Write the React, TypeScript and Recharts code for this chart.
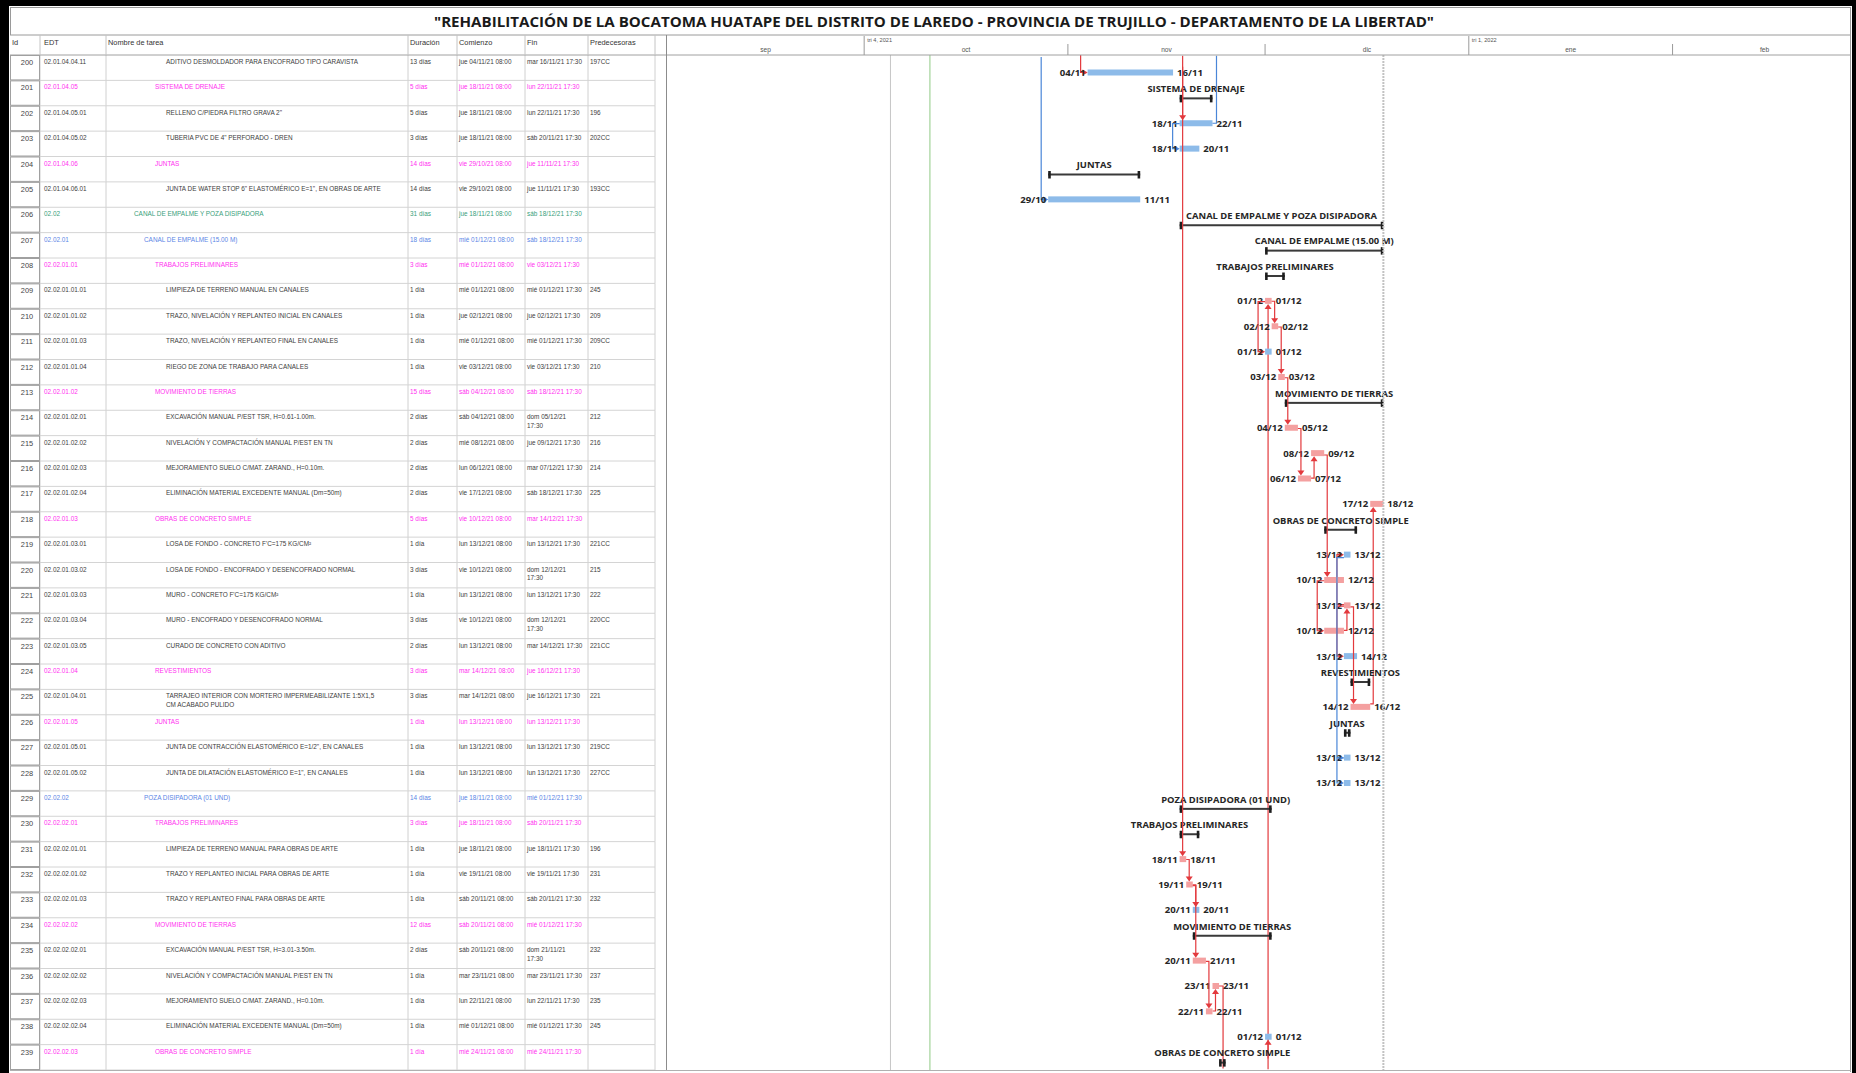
import React from "react";
import { ComposedChart, Bar, XAxis, YAxis, ReferenceLine } from "recharts";

const ids = [
  200, 201, 202, 203, 204, 205, 206, 207, 208, 209, 210, 211, 212, 213, 214, 215, 216, 217, 218, 219,
  220, 221, 222, 223, 224, 225, 226, 227, 228, 229, 230, 231, 232, 233, 234, 235, 236, 237, 238, 239,
];

const edtCodes = [
  "02.01.04.04.11", "02.01.04.05", "02.01.04.05.01", "02.01.04.05.02", "02.01.04.06", "02.01.04.06.01",
  "02.02", "02.02.01", "02.02.01.01", "02.02.01.01.01", "02.02.01.01.02", "02.02.01.01.03", "02.02.01.01.04",
  "02.02.01.02", "02.02.01.02.01", "02.02.01.02.02", "02.02.01.02.03", "02.02.01.02.04", "02.02.01.03",
  "02.02.01.03.01", "02.02.01.03.02", "02.02.01.03.03", "02.02.01.03.04", "02.02.01.03.05", "02.02.01.04",
  "02.02.01.04.01", "02.02.01.05", "02.02.01.05.01", "02.02.01.05.02", "02.02.02", "02.02.02.01",
  "02.02.02.01.01", "02.02.02.01.02", "02.02.02.01.03", "02.02.02.02", "02.02.02.02.01", "02.02.02.02.02",
  "02.02.02.02.03", "02.02.02.02.04", "02.02.02.03",
];

const taskNames = [
  "ADITIVO DESMOLDADOR PARA ENCOFRADO TIPO CARAVISTA",
  "SISTEMA DE DRENAJE",
  "RELLENO C/PIEDRA FILTRO GRAVA 2\"",
  "TUBERIA PVC DE 4\" PERFORADO - DREN",
  "JUNTAS",
  "JUNTA DE WATER STOP 6\" ELASTOMÉRICO E=1\", EN OBRAS DE ARTE",
  "CANAL DE EMPALME Y POZA DISIPADORA",
  "CANAL DE EMPALME (15.00 M)",
  "TRABAJOS PRELIMINARES",
  "LIMPIEZA DE TERRENO MANUAL EN CANALES",
  "TRAZO, NIVELACIÓN Y REPLANTEO INICIAL EN CANALES",
  "TRAZO, NIVELACIÓN Y REPLANTEO FINAL EN CANALES",
  "RIEGO DE ZONA DE TRABAJO PARA CANALES",
  "MOVIMIENTO DE TIERRAS",
  "EXCAVACIÓN MANUAL P/EST TSR, H=0.61-1.00m.",
  "NIVELACIÓN Y COMPACTACIÓN MANUAL P/EST EN TN",
  "MEJORAMIENTO SUELO C/MAT. ZARAND., H=0.10m.",
  "ELIMINACIÓN MATERIAL EXCEDENTE MANUAL (Dm=50m)",
  "OBRAS DE CONCRETO SIMPLE",
  "LOSA DE FONDO - CONCRETO F'C=175 KG/CM²",
  "LOSA DE FONDO - ENCOFRADO Y DESENCOFRADO NORMAL",
  "MURO - CONCRETO F'C=175 KG/CM²",
  "MURO - ENCOFRADO Y DESENCOFRADO NORMAL",
  "CURADO DE CONCRETO CON ADITIVO",
  "REVESTIMIENTOS",
  "TARRAJEO INTERIOR CON MORTERO IMPERMEABILIZANTE 1:5X1,5\nCM ACABADO PULIDO",
  "JUNTAS",
  "JUNTA DE CONTRACCIÓN ELASTOMÉRICO E=1/2\", EN CANALES",
  "JUNTA DE DILATACIÓN ELASTOMÉRICO E=1\", EN CANALES",
  "POZA DISIPADORA (01 UND)",
  "TRABAJOS PRELIMINARES",
  "LIMPIEZA DE TERRENO MANUAL PARA OBRAS DE ARTE",
  "TRAZO Y REPLANTEO INICIAL PARA OBRAS DE ARTE",
  "TRAZO Y REPLANTEO FINAL PARA OBRAS DE ARTE",
  "MOVIMIENTO DE TIERRAS",
  "EXCAVACIÓN MANUAL P/EST TSR, H=3.01-3.50m.",
  "NIVELACIÓN Y COMPACTACIÓN MANUAL P/EST EN TN",
  "MEJORAMIENTO SUELO C/MAT. ZARAND., H=0.10m.",
  "ELIMINACIÓN MATERIAL EXCEDENTE MANUAL (Dm=50m)",
  "OBRAS DE CONCRETO SIMPLE",
];

const durations = [
  "13 días", "5 días", "5 días", "3 días", "14 días", "14 días", "31 días", "18 días", "3 días", "1 día",
  "1 día", "1 día", "1 día", "15 días", "2 días", "2 días", "2 días", "2 días", "5 días", "1 día",
  "3 días", "1 día", "3 días", "2 días", "3 días", "3 días", "1 día", "1 día", "1 día", "14 días",
  "3 días", "1 día", "1 día", "1 día", "12 días", "2 días", "1 día", "1 día", "1 día", "1 día",
];

const startTexts = [
  "jue 04/11/21 08:00", "jue 18/11/21 08:00", "jue 18/11/21 08:00", "jue 18/11/21 08:00", "vie 29/10/21 08:00",
  "vie 29/10/21 08:00", "jue 18/11/21 08:00", "mié 01/12/21 08:00", "mié 01/12/21 08:00", "mié 01/12/21 08:00",
  "jue 02/12/21 08:00", "mié 01/12/21 08:00", "vie 03/12/21 08:00", "sáb 04/12/21 08:00", "sáb 04/12/21 08:00",
  "mié 08/12/21 08:00", "lun 06/12/21 08:00", "vie 17/12/21 08:00", "vie 10/12/21 08:00", "lun 13/12/21 08:00",
  "vie 10/12/21 08:00", "lun 13/12/21 08:00", "vie 10/12/21 08:00", "lun 13/12/21 08:00", "mar 14/12/21 08:00",
  "mar 14/12/21 08:00", "lun 13/12/21 08:00", "lun 13/12/21 08:00", "lun 13/12/21 08:00", "jue 18/11/21 08:00",
  "jue 18/11/21 08:00", "jue 18/11/21 08:00", "vie 19/11/21 08:00", "sáb 20/11/21 08:00", "sáb 20/11/21 08:00",
  "sáb 20/11/21 08:00", "mar 23/11/21 08:00", "lun 22/11/21 08:00", "mié 01/12/21 08:00", "mié 24/11/21 08:00",
];

const endTexts = [
  "mar 16/11/21 17:30", "lun 22/11/21 17:30", "lun 22/11/21 17:30", "sáb 20/11/21 17:30", "jue 11/11/21 17:30",
  "jue 11/11/21 17:30", "sáb 18/12/21 17:30", "sáb 18/12/21 17:30", "vie 03/12/21 17:30", "mié 01/12/21 17:30",
  "jue 02/12/21 17:30", "mié 01/12/21 17:30", "vie 03/12/21 17:30", "sáb 18/12/21 17:30", "dom 05/12/21\n17:30",
  "jue 09/12/21 17:30", "mar 07/12/21 17:30", "sáb 18/12/21 17:30", "mar 14/12/21 17:30", "lun 13/12/21 17:30",
  "dom 12/12/21\n17:30", "lun 13/12/21 17:30", "dom 12/12/21\n17:30", "mar 14/12/21 17:30", "jue 16/12/21 17:30",
  "jue 16/12/21 17:30", "lun 13/12/21 17:30", "lun 13/12/21 17:30", "lun 13/12/21 17:30", "mié 01/12/21 17:30",
  "sáb 20/11/21 17:30", "jue 18/11/21 17:30", "vie 19/11/21 17:30", "sáb 20/11/21 17:30", "mié 01/12/21 17:30",
  "dom 21/11/21\n17:30", "mar 23/11/21 17:30", "lun 22/11/21 17:30", "mié 01/12/21 17:30", "mié 24/11/21 17:30",
];

const predecessors = [
  "197CC", "", "196", "202CC", "", "193CC", "", "", "", "245",
  "209", "209CC", "210", "", "212", "216", "214", "225", "", "221CC",
  "215", "222", "220CC", "221CC", "", "221", "", "219CC", "227CC", "",
  "", "196", "231", "232", "", "232", "237", "235", "245", "",
];

// t = tarea, c = tarea crítica, r1 / r2 / r3 = resumen (verde / azul / magenta)
const kinds = [
  "t", "r3", "t", "t", "r3", "t", "r1", "r2", "r3", "c",
  "c", "t", "c", "r3", "c", "c", "c", "c", "r3", "t",
  "c", "c", "c", "t", "r3", "c", "r3", "t", "t", "r2",
  "r3", "c", "c", "t", "r3", "c", "c", "c", "t", "r3",
];

// tareas fuera de la vista
const criticalOutside = [196, 197, 245];
const succAbove = [202];
const succBelow = [236];

const months = ["sep", "oct", "nov", "dic", "ene", "feb"];
const monthBounds = ["01/09/21", "01/10/21", "01/11/21", "01/12/21", "01/01/22", "01/02/22", "01/03/22"];
const quarterLabels = ["tri 4, 2021", "tri 1, 2022"];
const quarterStarts = ["01/10/21", "01/01/22"];
const timelineEnd = "28/02/22";
const markerDates = ["05/10/21", "11/10/21", "19/12/21"];

const T0 = Date.UTC(2021, 8, 1);
const dayOf = (s: string) => {
  const m = s.match(/(\d{2})\/(\d{2})\/(\d{2})/)!;
  return (Date.UTC(2000 + Number(m[3]), Number(m[2]) - 1, Number(m[1])) - T0) / 86400000;
};
const shortDate = (s: string) => {
  const m = s.match(/(\d{2})\/(\d{2})\/(\d{2})/)!;
  return `${m[1]}/${m[2]}`;
};

const rows = ids.map((id, i) => {
  const start = dayOf(startTexts[i]);
  const end = dayOf(endTexts[i]) + 1;
  return { id: String(id), idx: i, start, end, range: [start, end] };
});

const monthDays = monthBounds.map(dayOf);
const monthMids = months.map((_, i) => (monthDays[i] + monthDays[i + 1]) / 2);
const quarterDays = quarterStarts.map(dayOf);
const headerTicks = [...monthDays.slice(0, 6), ...monthMids].sort((a, b) => a - b);

const CHART_TOP = 35;
const HEADER_H = 20;
const ROWS_H = 1015;
const ROW_H = ROWS_H / ids.length;
const BAR_Y = 17.5;

const RED_BAR = "#f4a0a0";
const BLUE_BAR = "#8dbbe9";
const RED_LINK = "#e3393d";
const BLUE_LINK = "#4a86d8";
const LABEL = "#262626";

const textColor: Record<string, string> = {
  t: "#3c3c3c",
  c: "#3c3c3c",
  r1: "#38a07a",
  r2: "#5b86e6",
  r3: "#ff2ff0",
};
const nameIndent: Record<string, number> = { t: 166, c: 166, r3: 155, r2: 144, r1: 134 };
const colLines = [40, 106, 408, 457, 525, 588, 655];

const TableRow = (props: any) => {
  const { y, payload } = props;
  const i = ids.indexOf(Number(payload.value));
  if (i < 0) return null;
  const top = y - ROW_H / 2;
  const fill = textColor[kinds[i]];
  const base = top + 9;
  const cell = (s: string, x: number, c: string) =>
    s.split("\n").map((ln, j) => (
      <text key={j} x={x} y={base + j * 8.6} fontSize={6.4} fill={c}>
        {ln}
      </text>
    ));
  return (
    <g fontFamily="'Liberation Sans', Arial, sans-serif">
      {colLines.map((cx) => (
        <line key={cx} x1={cx} x2={cx} y1={top} y2={top + ROW_H} stroke="#d0d0d0" />
      ))}
      <line x1={10} x2={655} y1={top + ROW_H} y2={top + ROW_H} stroke="#d4d4d4" />
      <rect x={10.5} y={top + 0.5} width={29} height={ROW_H - 1} fill="#fff" stroke="#a0a0a0" />
      <text x={27} y={top + 10} textAnchor="middle" fontSize={7.4} fill="#444">
        {ids[i]}
      </text>
      {cell(edtCodes[i], 44, fill)}
      {cell(taskNames[i], nameIndent[kinds[i]], fill)}
      {cell(durations[i], 410, fill)}
      {cell(startTexts[i], 459, fill)}
      {cell(endTexts[i], 527, fill)}
      {cell(predecessors[i], 590, "#3c3c3c")}
    </g>
  );
};

const HeaderTick = (props: any) => {
  const { x, payload } = props;
  const v = payload.value;
  const mid = monthMids.indexOf(v);
  if (mid >= 0) {
    return (
      <text x={x} y={17} textAnchor="middle" fontSize={6.6} fill="#555" fontFamily="'Liberation Sans', Arial">
        {months[mid]}
      </text>
    );
  }
  const q = quarterDays.indexOf(v);
  if (v <= 0) return null;
  return (
    <g>
      <line x1={x} x2={x} y1={q >= 0 ? 1 : 9} y2={HEADER_H} stroke="#9a9a9a" />
      {q >= 0 && (
        <text x={x + 3} y={7} fontSize={5.6} fill="#555" fontFamily="'Liberation Sans', Arial">
          {quarterLabels[q]}
        </text>
      )}
    </g>
  );
};

const arrowRight = (x: number, y: number, c: string) => (
  <polygon points={`${x},${y} ${x - 5},${y - 3} ${x - 5},${y + 3}`} fill={c} />
);
const arrowDown = (x: number, y: number, c: string) => (
  <polygon points={`${x},${y} ${x - 3.5},${y - 5} ${x + 3.5},${y - 5}`} fill={c} />
);
const arrowUp = (x: number, y: number, c: string) => (
  <polygon points={`${x},${y} ${x - 3.5},${y + 5} ${x + 3.5},${y + 5}`} fill={c} />
);

const GanttShape = (props: any) => {
  const { x, y, width, height, payload } = props;
  const i = payload.idx;
  const kind = kinds[i];
  const top = y;
  const band = height;
  const cy = top + BAR_Y;
  const pxDay = width / (payload.end - payload.start);
  const xAt = (d: number) => x + (d - payload.start) * pxDay;
  const plotTop = top - i * band;
  const plotBottom = top + (ids.length - i) * band;
  const font = { fontFamily: "'Open Sans', 'Noto Sans', sans-serif", fontWeight: 700 };

  if (kind.startsWith("r")) {
    return (
      <g>
        <text x={x + width / 2} y={top + 11.8} textAnchor="middle" fontSize={9.4} fill={LABEL} {...font}>
          {taskNames[i]}
        </text>
        <rect x={x} y={top + 17} width={width} height={2} fill="#3a3a3a" />
        <rect x={x} y={top + 14.5} width={2.6} height={7.5} fill="#1e1e1e" />
        <rect x={x + width - 2.6} y={top + 14.5} width={2.6} height={7.5} fill="#1e1e1e" />
      </g>
    );
  }

  const links: React.ReactNode[] = [];
  const pred = predecessors[i];
  if (pred) {
    const cc = pred.endsWith("CC");
    const pid = parseInt(pred, 10);
    const pi = ids.indexOf(pid);
    const crit = pi >= 0 ? kinds[pi] === "c" : criticalOutside.includes(pid);
    const col = crit ? RED_LINK : BLUE_LINK;
    if (cc) {
      let d: string;
      if (pi >= 0) {
        const pcy = top + (pi - i) * band + BAR_Y;
        const psx = xAt(rows[pi].start);
        const lx = Math.min(psx, x) - 7;
        d = `M${psx},${pcy}H${lx}V${cy}H${x - 4}`;
      } else {
        const from = pid < ids[0] ? plotTop : plotBottom;
        d = `M${x - 7},${from}V${cy}H${x - 4}`;
      }
      links.push(
        <g key="in">
          <path d={d} fill="none" stroke={col} strokeWidth={1.2} />
          {arrowRight(x, cy, col)}
        </g>
      );
    } else {
      const vx = x + 3;
      let down: boolean;
      let d: string;
      if (pi >= 0) {
        const pcy = top + (pi - i) * band + BAR_Y;
        const pex = xAt(rows[pi].end);
        down = pi < i;
        d = `M${pex},${pcy}H${vx}V${down ? cy - 7 : cy + 7}`;
      } else {
        down = pid < ids[0];
        d = `M${vx},${down ? plotTop : plotBottom}V${down ? cy - 7 : cy + 7}`;
      }
      links.push(
        <g key="in">
          <path d={d} fill="none" stroke={col} strokeWidth={1.2} />
          {down ? arrowDown(vx, cy - 3, col) : arrowUp(vx, cy + 3, col)}
        </g>
      );
    }
  }
  const ownCol = kind === "c" ? RED_LINK : BLUE_LINK;
  if (succAbove.includes(ids[i])) {
    links.push(
      <path key="up" d={`M${x + width},${cy}H${x + width + 4}V${plotTop}`} fill="none" stroke={ownCol} strokeWidth={1.2} />
    );
  }
  if (succBelow.includes(ids[i])) {
    links.push(
      <path key="dn" d={`M${x + width},${cy}H${x + width + 4}V${plotBottom}`} fill="none" stroke={ownCol} strokeWidth={1.2} />
    );
  }

  return (
    <g>
      <rect x={x} y={cy - 3} width={width} height={6} fill={kind === "c" ? RED_BAR : BLUE_BAR} />
      {links}
      <text x={x - 2} y={cy + 3.4} textAnchor="end" fontSize={9.6} fill={LABEL} {...font}>
        {shortDate(startTexts[i])}
      </text>
      <text x={x + width + 4} y={cy + 3.4} fontSize={9.6} fill={LABEL} {...font}>
        {shortDate(endTexts[i])}
      </text>
    </g>
  );
};

const headerCols = [
  { label: "Id", x: 12 },
  { label: "EDT", x: 44 },
  { label: "Nombre de tarea", x: 108 },
  { label: "Duración", x: 410 },
  { label: "Comienzo", x: 459 },
  { label: "Fin", x: 527 },
  { label: "Predecesoras", x: 590 },
];

const App = () => {
  return (
    <div
      style={{
        position: "absolute",
        left: 0,
        top: 0,
        width: 1856,
        height: 1073,
        background: "#fff",
        overflow: "hidden",
      }}
    >
      <div style={{ position: "absolute", left: 0, top: CHART_TOP }}>
        <ComposedChart
          width={1850}
          height={HEADER_H + ROWS_H}
          data={rows}
          layout="vertical"
          margin={{ top: 0, right: 0, bottom: 0, left: 8 }}
          barCategoryGap={0}
          barGap={0}
        >
          <XAxis
            type="number"
            orientation="top"
            domain={[0, dayOf(timelineEnd)]}
            ticks={headerTicks}
            interval={0}
            height={HEADER_H}
            tick={(p: any) => <HeaderTick {...p} />}
            tickLine={false}
            axisLine={{ stroke: "#a0a0a0" }}
            allowDataOverflow
          />
          <YAxis
            type="category"
            dataKey="id"
            width={659}
            interval={0}
            tick={(p: any) => <TableRow {...p} />}
            tickLine={false}
            axisLine={false}
          />
          <ReferenceLine x={dayOf(markerDates[0])} stroke="#c6c6c6" />
          <ReferenceLine x={dayOf(markerDates[1])} stroke="#b5dcae" strokeWidth={1.5} />
          <ReferenceLine x={dayOf(markerDates[2])} stroke="#c2c2c2" strokeWidth={2} strokeDasharray="2 1" />
          <Bar dataKey="range" isAnimationActive={false} shape={(p: any) => <GanttShape {...p} />} />
        </ComposedChart>
      </div>
      <svg
        width={1856}
        height={1073}
        style={{ position: "absolute", left: 0, top: 0, pointerEvents: "none" }}
      >
        <rect x={0} y={0} width={1856} height={6} fill="#000" />
        <rect x={0} y={0} width={9} height={1073} fill="#000" />
        <rect x={1852} y={0} width={4} height={1073} fill="#000" />
        <rect x={10.5} y={7.5} width={1840} height={27.5} fill="none" stroke="#9a9a9a" />
        <text
          x={934}
          y={26.5}
          textAnchor="middle"
          fontFamily="'Open Sans', 'Noto Sans', sans-serif"
          fontWeight={700}
          fontSize={15}
          fill="#1a1a1a"
          textLength={1000}
          lengthAdjust="spacingAndGlyphs"
        >
          "REHABILITACIÓN DE LA BOCATOMA HUATAPE DEL DISTRITO DE LAREDO - PROVINCIA DE TRUJILLO - DEPARTAMENTO DE LA LIBERTAD"
        </text>
        <line x1={10} x2={666} y1={55} y2={55} stroke="#a0a0a0" />
        {colLines.map((cx) => (
          <line key={cx} x1={cx} x2={cx} y1={35} y2={55} stroke="#c4c4c4" />
        ))}
        {headerCols.map((h) => (
          <text key={h.label} x={h.x} y={44.5} fontSize={7.4} fill="#333" fontFamily="'Liberation Sans', Arial, sans-serif">
            {h.label}
          </text>
        ))}
        <line x1={666.5} x2={666.5} y1={35} y2={1070} stroke="#8c8c8c" />
        <line x1={1850.5} x2={1850.5} y1={7} y2={1072} stroke="#9a9a9a" />
        <line x1={10} x2={1851} y1={1070.5} y2={1070.5} stroke="#b0b0b0" />
      </svg>
    </div>
  );
};

export default App;
